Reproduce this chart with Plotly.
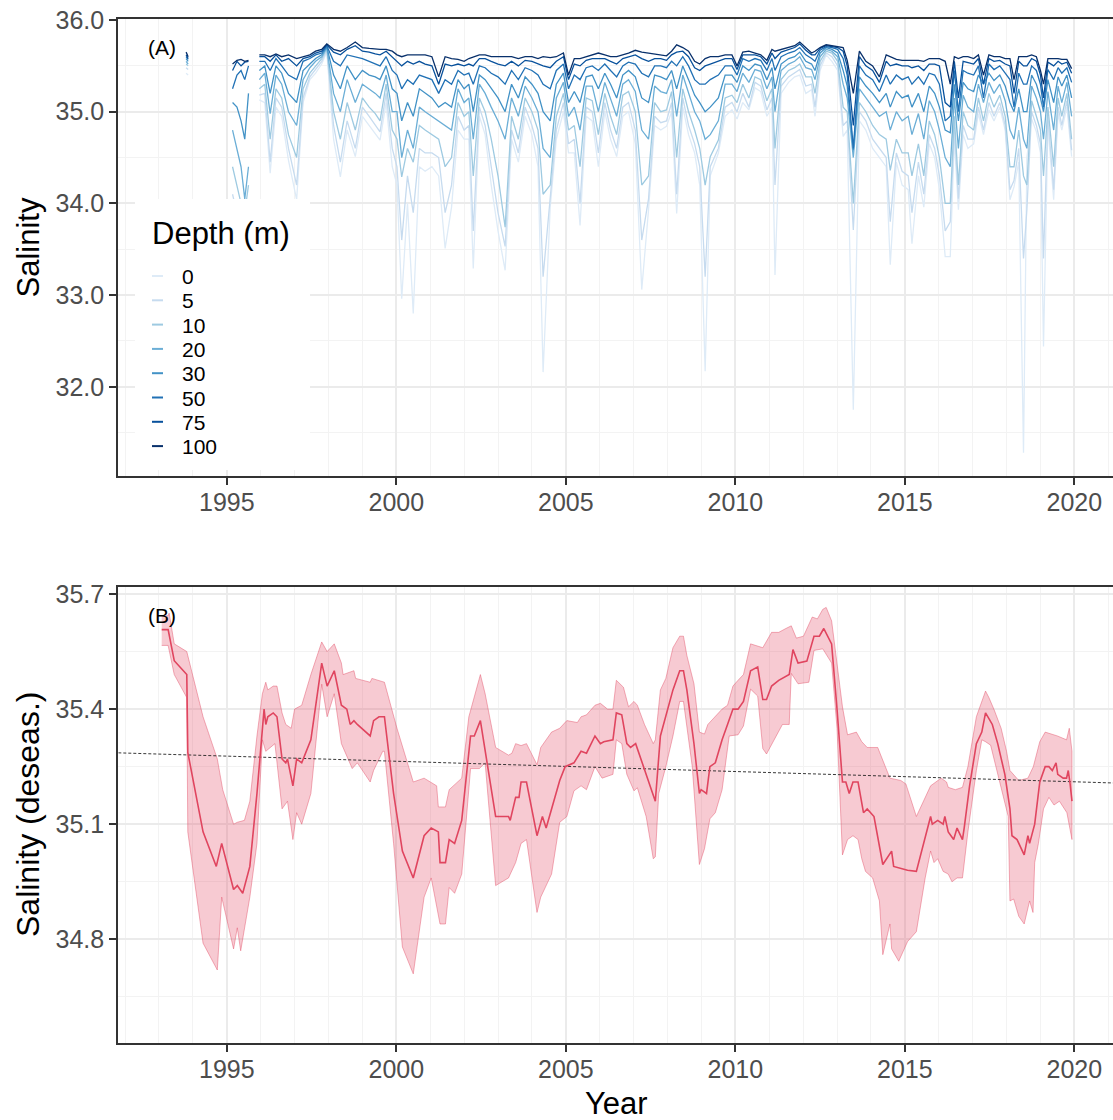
import plotly.graph_objects as go

W, H = 1113, 1120

# ---------------- Panel A: salinity by depth ----------------
dates = [
    1993.80, 1993.86, 1994.50, 1995.17, 1995.30, 1995.42, 1995.53, 1995.64, 1995.80, 1995.96,
    1996.12, 1996.28, 1996.45, 1996.62, 1996.82,
    1997.06, 1997.25, 1997.45, 1997.62, 1997.80, 1997.95,
    1998.15, 1998.35, 1998.55, 1998.79,
    1999.00, 1999.20, 1999.38, 1999.52, 1999.70, 1999.88,
    2000.02, 2000.16, 2000.33, 2000.50, 2000.68, 2000.85,
    2001.05, 2001.25, 2001.44, 2001.63, 2001.82,
    2002.00, 2002.14, 2002.27, 2002.45, 2002.62, 2002.80,
    2003.00, 2003.21, 2003.40, 2003.60, 2003.80,
    2004.00, 2004.18, 2004.33, 2004.54, 2004.72, 2004.93,
    2005.08, 2005.25, 2005.42, 2005.60, 2005.78, 2005.96,
    2006.15, 2006.32, 2006.50, 2006.68, 2006.85,
    2007.05, 2007.24, 2007.44, 2007.62, 2007.80, 2007.97,
    2008.12, 2008.27, 2008.45, 2008.62, 2008.80, 2008.95,
    2009.11, 2009.26, 2009.50, 2009.70, 2009.90,
    2010.05, 2010.22, 2010.40, 2010.58, 2010.75, 2010.93,
    2011.08, 2011.17, 2011.35, 2011.57, 2011.75, 2011.90,
    2012.08, 2012.25, 2012.35, 2012.50, 2012.68, 2012.85,
    2013.02, 2013.18, 2013.30, 2013.48, 2013.66, 2013.85,
    2014.05, 2014.25, 2014.45, 2014.57, 2014.75, 2014.92,
    2015.10, 2015.21, 2015.40, 2015.56, 2015.72, 2015.88,
    2016.02, 2016.19, 2016.34, 2016.46, 2016.58, 2016.72, 2016.86,
    2017.03, 2017.17, 2017.32, 2017.48, 2017.63, 2017.80, 2017.96,
    2018.10, 2018.22, 2018.36, 2018.50, 2018.60, 2018.74, 2018.88,
    2019.00, 2019.09, 2019.22, 2019.39, 2019.52, 2019.63, 2019.78, 2019.92,
]

sal_100 = [
    35.65, 35.60, None, 35.52, 35.56, 35.57, 35.55, 35.56, None, 35.62,
    35.62, 35.60, 35.63, 35.60, 35.62,
    35.58, 35.60, 35.62, 35.66, 35.68, 35.74,
    35.68, 35.66, 35.70, 35.76,
    35.70, 35.69, 35.68, 35.68, 35.68, 35.66,
    35.62, 35.60, 35.62, 35.62, 35.62, 35.62,
    35.60, 35.38, 35.60, 35.58, 35.57,
    35.55, 35.58, 35.60, 35.62, 35.62, 35.60,
    35.60, 35.60, 35.60, 35.58, 35.60,
    35.60, 35.58, 35.60, 35.59, 35.60, 35.64,
    35.40, 35.58, 35.58, 35.60, 35.62, 35.64,
    35.62, 35.60, 35.60, 35.62, 35.64,
    35.67, 35.65, 35.64, 35.63, 35.62, 35.61,
    35.66, 35.73, 35.70, 35.66, 35.55, 35.52,
    35.58, 35.60, 35.60, 35.62, 35.62,
    35.50, 35.65, 35.66, 35.64, 35.62, 35.56,
    35.68, 35.66, 35.68, 35.70, 35.72, 35.76,
    35.70, 35.64, 35.66, 35.70, 35.73, 35.72,
    35.71, 35.70, 35.56, 35.20, 35.66, 35.55,
    35.50, 35.38, 35.62, 35.60, 35.57, 35.56,
    35.56, 35.56, 35.56, 35.55, 35.58, 35.58,
    35.58, 35.55, 35.30, 35.60, 35.58, 35.60, 35.60,
    35.58, 35.62, 35.40, 35.62, 35.60, 35.60, 35.58,
    35.58, 35.35, 35.60, 35.60, 35.60, 35.62, 35.60,
    35.45, 35.30, 35.58, 35.58, 35.58, 35.57, 35.57, 35.47,
]

sal_75 = [
    35.62, 35.58, None, 35.45, 35.55, 35.50, 35.54, 35.55, None, 35.60,
    35.60, 35.55, 35.62, 35.55, 35.58,
    35.50, 35.58, 35.60, 35.64, 35.66, 35.73,
    35.65, 35.62, 35.68, 35.72,
    35.66, 35.65, 35.63, 35.62, 35.66, 35.60,
    35.55, 35.50, 35.55, 35.52, 35.55, 35.52,
    35.50, 35.30, 35.52, 35.50, 35.52,
    35.50, 35.52, 35.50, 35.58, 35.58, 35.55,
    35.52, 35.50, 35.55, 35.50, 35.56,
    35.55, 35.52, 35.50, 35.48, 35.55, 35.60,
    35.35, 35.52, 35.50, 35.56, 35.58, 35.58,
    35.58, 35.55, 35.52, 35.58, 35.60,
    35.62, 35.58, 35.55, 35.58, 35.58, 35.56,
    35.62, 35.65, 35.66, 35.60, 35.48, 35.45,
    35.50, 35.52, 35.55, 35.58, 35.58,
    35.46, 35.62, 35.62, 35.62, 35.60, 35.52,
    35.64, 35.58, 35.65, 35.68, 35.70, 35.74,
    35.67, 35.62, 35.62, 35.69, 35.72, 35.71,
    35.70, 35.66, 35.50, 34.85, 35.60, 35.50,
    35.45, 35.32, 35.55, 35.50, 35.52, 35.50,
    35.50, 35.48, 35.50, 35.45, 35.52, 35.52,
    35.50, 35.10, 35.05, 35.55, 35.15, 35.55, 35.54,
    35.52, 35.58, 35.30, 35.58, 35.55, 35.56, 35.52,
    35.50, 35.20, 35.55, 35.50, 35.50, 35.58, 35.55,
    35.40, 35.15, 35.54, 35.50, 35.55, 35.52, 35.54, 35.42,
]

sal_50 = [
    35.60, 35.57, None, 35.25, 35.40, 35.45, 35.35, 35.50, None, 35.55,
    35.55, 35.45, 35.58, 35.50, 35.40,
    35.35, 35.55, 35.58, 35.62, 35.64, 35.72,
    35.55, 35.50, 35.62, 35.60,
    35.58, 35.55, 35.52, 35.50, 35.60, 35.45,
    35.40, 35.25, 35.35, 35.30, 35.40, 35.38,
    35.35, 35.20, 35.35, 35.30, 35.45,
    35.40, 35.42, 35.30, 35.50, 35.48, 35.42,
    35.38, 35.30, 35.45, 35.35, 35.48,
    35.45, 35.40, 35.30, 35.25, 35.45, 35.52,
    35.25, 35.40, 35.35, 35.48, 35.50, 35.45,
    35.52, 35.45, 35.38, 35.50, 35.54,
    35.52, 35.42, 35.38, 35.50, 35.50, 35.48,
    35.55, 35.50, 35.60, 35.50, 35.35, 35.30,
    35.30, 35.35, 35.40, 35.50, 35.50,
    35.40, 35.58, 35.55, 35.58, 35.56, 35.45,
    35.58, 35.45, 35.60, 35.64, 35.66, 35.70,
    35.62, 35.58, 35.55, 35.67, 35.71, 35.70,
    35.68, 35.58, 35.40, 34.60, 35.50, 35.40,
    35.35, 35.22, 35.40, 35.30, 35.40, 35.35,
    35.38, 35.30, 35.38, 35.30, 35.42, 35.40,
    35.30, 34.90, 34.95, 35.45, 35.00, 35.45, 35.42,
    35.40, 35.50, 35.15, 35.52, 35.46, 35.50, 35.42,
    35.35, 35.05, 35.42, 35.30, 35.30, 35.50, 35.45,
    35.30, 35.05, 35.46, 35.35, 35.48, 35.42, 35.48, 35.32,
]

sal_30 = [
    35.58, 35.55, None, 35.10, 35.05, 34.90, 34.70, 35.20, None, 35.45,
    35.50, 35.20, 35.50, 35.42, 35.20,
    35.10, 35.45, 35.52, 35.58, 35.62, 35.71,
    35.40, 35.25, 35.50, 35.35,
    35.45, 35.40, 35.38, 35.35, 35.50, 35.25,
    35.20, 34.90, 35.10, 34.95, 35.25, 35.20,
    35.15, 35.05, 35.10, 35.05, 35.35,
    35.25, 35.30, 35.00, 35.40, 35.35, 35.25,
    35.15, 35.00, 35.30, 35.15, 35.38,
    35.30, 35.20, 35.00, 34.90, 35.30, 35.42,
    35.10, 35.22, 35.10, 35.38, 35.40, 35.25,
    35.42, 35.30, 35.15, 35.40, 35.45,
    35.38, 35.15, 35.10, 35.40, 35.38, 35.35,
    35.45, 35.25, 35.50, 35.35, 35.18, 35.10,
    35.00, 35.05, 35.15, 35.40, 35.40,
    35.32, 35.50, 35.45, 35.52, 35.50, 35.35,
    35.48, 35.25, 35.52, 35.58, 35.60, 35.65,
    35.55, 35.52, 35.45, 35.64, 35.70, 35.68,
    35.64, 35.45, 35.28, 34.58, 35.38, 35.28,
    35.20, 35.10, 35.20, 35.05, 35.22, 35.15,
    35.18, 35.05, 35.20, 35.00, 35.28, 35.20,
    35.05, 34.80, 34.77, 35.30, 34.90, 35.32, 35.25,
    35.22, 35.40, 35.30, 35.42, 35.34, 35.40, 35.28,
    35.10, 35.00, 35.25, 35.00, 35.00, 35.40, 35.30,
    35.15, 35.00, 35.35, 35.10, 35.38, 35.28, 35.40, 35.15,
]

sal_20 = [
    35.55, 35.52, None, 34.80, 34.60, 34.40, 34.05, 34.40, None, 35.35,
    35.42, 34.98, 35.40, 35.30, 35.00,
    34.85, 35.35, 35.48, 35.55, 35.60, 35.70,
    35.20, 35.00, 35.35, 35.10,
    35.30, 35.25, 35.20, 35.15, 35.40, 35.00,
    35.00, 34.50, 34.80, 34.60, 35.05, 35.00,
    34.95, 34.90, 34.85, 34.80, 35.25,
    35.10, 35.15, 34.70, 35.30, 35.20, 35.05,
    34.90, 34.70, 35.15, 34.95, 35.28,
    35.15, 35.00, 34.60, 34.50, 35.15, 35.32,
    34.95, 35.05, 34.80, 35.28, 35.28, 35.00,
    35.32, 35.15, 34.95, 35.30, 35.35,
    35.22, 34.80, 34.70, 35.28, 35.22, 35.20,
    35.35, 34.95, 35.40, 35.20, 35.00, 34.90,
    34.70, 34.75, 34.90, 35.30, 35.30,
    35.22, 35.42, 35.32, 35.46, 35.44, 35.25,
    35.38, 35.00, 35.45, 35.52, 35.55, 35.60,
    35.48, 35.46, 35.35, 35.60, 35.68, 35.66,
    35.60, 35.30, 35.15, 34.50, 35.25, 35.15,
    35.05, 34.95, 35.00, 34.80, 35.00, 34.90,
    34.95, 34.75, 34.98, 34.70, 35.12, 35.00,
    34.80, 34.50, 34.40, 35.15, 34.60, 35.18, 35.05,
    35.00, 35.30, 35.10, 35.32, 35.20, 35.30, 35.12,
    34.80, 34.70, 35.05, 34.70, 34.60, 35.28, 35.15,
    35.00, 34.70, 35.22, 34.80, 35.28, 35.10, 35.32, 34.95,
]

sal_10 = [
    35.52, 35.50, None, 34.40, 34.20, 34.00, 33.90, 34.20, None, 35.25,
    35.30, 34.70, 35.25, 35.15, 34.75,
    34.50, 35.25, 35.42, 35.50, 35.58, 35.69,
    35.00, 34.70, 35.10, 34.80,
    35.15, 35.05, 34.98, 34.90, 35.30, 34.80,
    34.70, 34.29, 34.60, 34.45, 34.85, 34.80,
    34.75, 34.70, 34.40, 34.50, 35.10,
    34.95, 35.00, 34.30, 35.15, 35.00, 34.70,
    34.30, 33.74, 34.95, 34.70, 35.15,
    35.00, 34.80, 34.10, 34.20, 34.95, 35.20,
    34.80, 34.85, 34.40, 35.15, 35.12, 34.75,
    35.20, 34.95, 34.75, 35.18, 35.22,
    35.00, 34.20, 34.30, 35.10, 35.00, 35.02,
    35.22, 34.50, 35.25, 35.00, 34.80, 34.60,
    34.20, 34.51, 34.69, 35.15, 35.18,
    35.10, 35.30, 35.15, 35.38, 35.35, 35.12,
    35.25, 34.60, 35.35, 35.45, 35.48, 35.52,
    35.38, 35.38, 35.20, 35.55, 35.66, 35.64,
    35.55, 35.05, 35.00, 34.00, 35.10, 35.00,
    34.85, 34.75, 34.70, 34.36, 34.70, 34.55,
    34.55, 34.30, 34.65, 34.30, 34.90, 34.75,
    34.50, 34.00, 34.00, 34.95, 34.20, 35.00, 34.85,
    34.80, 35.15, 34.90, 35.20, 35.05, 35.18, 34.95,
    34.40, 34.40, 34.80, 34.30, 34.20, 35.12, 34.95,
    34.80, 34.30, 35.05, 34.40, 35.15, 34.95, 35.20, 34.70,
]

sal_5 = [
    35.48, 35.46, None, 34.10, 33.90, 33.70, 33.60, 33.95, None, 35.18,
    35.20, 34.45, 35.15, 35.05, 34.60,
    34.20, 35.15, 35.38, 35.46, 35.55, 35.67,
    34.85, 34.45, 34.90, 34.60,
    35.05, 34.95, 34.85, 34.78, 35.20, 34.60,
    34.40, 33.60, 34.30, 33.90, 34.60, 34.55,
    34.55, 34.50, 33.90, 34.20, 34.95,
    34.80, 34.85, 33.70, 35.05, 34.85, 34.40,
    33.90, 33.53, 34.80, 34.55, 35.05,
    34.85, 34.60, 33.20, 34.05, 34.80, 35.10,
    34.65, 34.70, 34.00, 35.05, 35.00, 34.55,
    35.10, 34.80, 34.60, 35.05, 35.10,
    34.80, 33.60, 34.05, 34.95, 34.88, 34.90,
    35.10, 34.10, 35.15, 34.85, 34.65, 34.40,
    33.20, 34.40, 34.60, 35.05, 35.10,
    35.00, 35.20, 35.05, 35.32, 35.28, 35.02,
    35.15, 34.20, 35.28, 35.38, 35.42, 35.46,
    35.28, 35.30, 35.05, 35.50, 35.64, 35.60,
    35.50, 34.85, 34.90, 33.71, 35.00, 34.90,
    34.70, 34.60, 34.50, 33.80, 34.55, 34.35,
    34.30, 33.90, 34.45, 34.10, 34.75, 34.60,
    34.30, 33.70, 33.80, 34.80, 34.05, 34.85, 34.70,
    34.70, 35.05, 34.80, 35.10, 34.95, 35.10, 34.85,
    34.15, 34.25, 34.60, 33.40, 33.93, 35.00, 34.85,
    34.65, 33.40, 34.95, 34.15, 35.05, 34.85, 35.12, 34.58,
]

sal_0 = [
    35.42, 35.40, None, 33.90, 33.60, 33.50, 33.40, 33.70, None, 35.13,
    35.10, 34.33, 35.05, 34.95, 34.47,
    34.04, 35.10, 35.35, 35.42, 35.52, 35.65,
    34.70, 34.29, 34.80, 34.51,
    34.95, 34.85, 34.75, 34.69, 35.10, 34.40,
    34.20, 32.96, 34.00, 32.80, 34.40, 34.35,
    34.40, 34.30, 33.51, 33.96, 34.80,
    34.70, 34.70, 33.29, 34.95, 34.75, 34.20,
    33.70, 33.27, 34.70, 34.45, 34.95,
    34.75, 34.40, 32.16, 33.96, 34.70, 35.00,
    34.55, 34.55, 33.76, 34.95, 34.90, 34.40,
    35.00, 34.70, 34.51, 34.95, 35.00,
    34.65, 33.06, 33.93, 34.85, 34.80, 34.84,
    35.00, 33.89, 35.05, 34.75, 34.55, 34.20,
    32.17, 34.30, 34.55, 34.95, 35.02,
    34.92, 35.10, 35.02, 35.26, 35.22, 34.95,
    35.05, 33.22, 35.20, 35.32, 35.38, 35.40,
    35.20, 35.24, 34.95, 35.45, 35.62, 35.55,
    35.45, 34.73, 34.80, 31.75, 34.90, 34.80,
    34.60, 34.50, 34.40, 33.33, 34.45, 34.20,
    34.15, 33.56, 34.30, 33.96, 34.65, 34.50,
    34.15, 33.42, 33.42, 34.70, 33.93, 34.75, 34.60,
    34.65, 34.98, 34.75, 35.02, 34.90, 35.05, 34.80,
    34.04, 34.18, 34.45, 31.28, 34.50, 34.92, 34.78,
    34.55, 32.44, 34.85, 34.04, 34.98, 34.80, 35.05, 34.51,
]

depth_labels = ["0", "5", "10", "20", "30", "50", "75", "100"]
depth_series = [sal_0, sal_5, sal_10, sal_20, sal_30, sal_50, sal_75, sal_100]
depth_colors = ["#DEEBF7", "#C6DBEF", "#9ECAE1", "#6BAED6",
                "#4292C6", "#2171B5", "#08519C", "#08306B"]

# ---------------- Panel B: deseasonalised salinity ----------------
b_years = [
    1993.08, 1993.27, 1993.45, 1993.82, 1993.85, 1994.30, 1994.69, 1994.85, 1995.20, 1995.31,
    1995.47, 1995.68, 1995.89, 1996.10, 1996.15, 1996.21, 1996.37, 1996.48, 1996.63, 1996.74,
    1996.79, 1996.95, 1997.06, 1997.21, 1997.48, 1997.80, 1997.96, 1998.17, 1998.38, 1998.54,
    1998.64, 1998.75, 1998.85, 1999.23, 1999.33, 1999.49, 1999.65, 1999.92, 2000.18, 2000.50,
    2000.82, 2001.03, 2001.24, 2001.29, 2001.45, 2001.56, 2001.72, 2001.93, 2002.19, 2002.30,
    2002.48, 2002.62, 2002.93, 2003.31, 2003.36, 2003.52, 2003.62, 2003.68, 2003.84, 2004.15,
    2004.21, 2004.31, 2004.42, 2004.58, 2004.82, 2004.98, 2005.24, 2005.45, 2005.61, 2005.86,
    2006.02, 2006.12, 2006.39, 2006.49, 2006.65, 2006.80, 2006.91, 2007.06, 2007.32, 2007.58,
    2007.64, 2007.79, 2007.95, 2008.16, 2008.36, 2008.47, 2008.57, 2008.78, 2008.94, 2008.99,
    2009.15, 2009.25, 2009.41, 2009.61, 2009.77, 2009.93, 2010.08, 2010.24, 2010.45, 2010.66,
    2010.81, 2010.92, 2011.07, 2011.28, 2011.59, 2011.70, 2011.85, 2012.11, 2012.32, 2012.48,
    2012.61, 2012.84, 2013.00, 2013.16, 2013.26, 2013.36, 2013.47, 2013.62, 2013.78, 2013.89,
    2014.09, 2014.35, 2014.61, 2014.67, 2015.08, 2015.34, 2015.76, 2015.81, 2015.97, 2016.13,
    2016.18, 2016.28, 2016.44, 2016.54, 2016.70, 2016.75, 2016.91, 2017.11, 2017.27, 2017.38,
    2017.48, 2017.58, 2017.74, 2017.95, 2018.10, 2018.16, 2018.31, 2018.42, 2018.52, 2018.63,
    2018.68, 2018.83, 2018.98, 2019.14, 2019.25, 2019.35, 2019.46, 2019.51, 2019.67, 2019.77,
    2019.82, 2019.875, 2019.93,
]
b_mean = [
    35.607, 35.607, 35.526, 35.49, 35.287, 35.08, 34.99, 35.05, 34.93, 34.94,
    34.92, 34.99, 35.18, 35.40, 35.36, 35.38, 35.39, 35.38, 35.27, 35.26,
    35.27, 35.20, 35.27, 35.26, 35.32, 35.52, 35.46, 35.50, 35.41, 35.40,
    35.36, 35.37, 35.36, 35.33, 35.37, 35.38, 35.38, 35.18, 35.03, 34.96,
    35.07, 35.09, 35.08, 35.00, 35.00, 35.06, 35.05, 35.11, 35.33, 35.33,
    35.37, 35.29, 35.12, 35.12, 35.11, 35.17, 35.17, 35.21, 35.21, 35.07,
    35.09, 35.12, 35.09, 35.14, 35.214, 35.25, 35.26, 35.29, 35.285, 35.33,
    35.31, 35.315, 35.32, 35.39, 35.385, 35.31, 35.30, 35.31, 35.24, 35.17,
    35.16, 35.33, 35.38, 35.45, 35.50, 35.50, 35.45, 35.31, 35.18, 35.19,
    35.18, 35.25, 35.26, 35.32, 35.36, 35.40, 35.40, 35.42, 35.50, 35.51,
    35.425, 35.425, 35.46, 35.475, 35.49, 35.555, 35.52, 35.525, 35.59, 35.59,
    35.61, 35.57, 35.40, 35.21, 35.21, 35.18, 35.21, 35.21, 35.13, 35.14,
    35.12, 34.995, 35.03, 34.99, 34.98, 34.977, 35.12, 35.10, 35.11, 35.10,
    35.12, 35.08, 35.06, 35.09, 35.06, 35.09, 35.20, 35.31, 35.34, 35.39,
    35.375, 35.36, 35.31, 35.23, 35.14, 35.07, 35.06, 35.04, 35.02, 35.07,
    35.05, 35.10, 35.21, 35.25, 35.25, 35.24, 35.26, 35.23, 35.22, 35.22,
    35.24, 35.205, 35.16,
]

b_up_years = [
    1993.08, 1993.27, 1993.30, 1993.45, 1993.82, 1994.30, 1994.72, 1994.88, 1995.20, 1995.31,
    1995.52, 1995.68, 1995.89, 1996.05, 1996.15, 1996.21, 1996.37, 1996.48, 1996.63, 1996.74,
    1996.90, 1997.00, 1997.21, 1997.48, 1997.80, 1997.96, 1998.17, 1998.38, 1998.43, 1998.75,
    1998.80, 1999.23, 1999.28, 1999.65, 2000.02, 2000.50, 2000.82, 2001.19, 2001.24, 2001.45,
    2001.56, 2001.93, 2002.14, 2002.48, 2002.62, 2002.93, 2003.31, 2003.41, 2003.52, 2003.68,
    2003.84, 2004.15, 2004.26, 2004.58, 2004.82, 2005.03, 2005.34, 2005.45, 2005.61, 2005.86,
    2006.02, 2006.23, 2006.39, 2006.49, 2006.70, 2006.85, 2007.01, 2007.11, 2007.32, 2007.58,
    2007.64, 2007.79, 2007.95, 2008.16, 2008.36, 2008.47, 2008.57, 2008.78, 2008.94, 2009.09,
    2009.19, 2009.41, 2009.61, 2009.77, 2009.93, 2010.08, 2010.24, 2010.45, 2010.81, 2011.07,
    2011.28, 2011.49, 2011.65, 2011.80, 2012.01, 2012.27, 2012.42, 2012.58, 2012.68, 2012.84,
    2013.05, 2013.16, 2013.31, 2013.57, 2013.73, 2013.89, 2014.20, 2014.56, 2014.88, 2015.03,
    2015.34, 2015.76, 2016.07, 2016.23, 2016.28, 2016.49, 2016.70, 2016.86, 2017.11, 2017.27,
    2017.38, 2017.48, 2017.64, 2017.84, 2018.00, 2018.10, 2018.36, 2018.63, 2018.79, 2018.98,
    2019.14, 2019.50, 2019.77, 2019.85, 2019.93,
]
b_up = [
    35.643, 35.643, 35.65, 35.57, 35.55, 35.38, 35.27, 35.19, 35.10, 35.105,
    35.11, 35.16, 35.33, 35.44, 35.47, 35.45, 35.46, 35.46, 35.39, 35.36,
    35.35, 35.40, 35.41, 35.49, 35.575, 35.55, 35.57, 35.52, 35.49, 35.50,
    35.48, 35.47, 35.48, 35.47, 35.35, 35.21, 35.22, 35.20, 35.145, 35.145,
    35.19, 35.22, 35.38, 35.49, 35.44, 35.30, 35.28, 35.285, 35.31, 35.305,
    35.31, 35.255, 35.30, 35.34, 35.35, 35.37, 35.365, 35.38, 35.385, 35.41,
    35.415, 35.40, 35.40, 35.475, 35.457, 35.406, 35.42, 35.41, 35.36, 35.31,
    35.32, 35.45, 35.48, 35.56, 35.59, 35.59, 35.54, 35.466, 35.34, 35.335,
    35.36, 35.38, 35.40, 35.41, 35.46, 35.475, 35.49, 35.57, 35.56, 35.60,
    35.60, 35.61, 35.617, 35.585, 35.59, 35.64, 35.635, 35.66, 35.665, 35.63,
    35.48, 35.406, 35.333, 35.34, 35.315, 35.30, 35.30, 35.22, 35.214, 35.205,
    35.12, 35.20, 35.22, 35.21, 35.196, 35.19, 35.196, 35.25, 35.38, 35.42,
    35.447, 35.43, 35.397, 35.35, 35.29, 35.24, 35.214, 35.22, 35.25, 35.315,
    35.34, 35.33, 35.32, 35.35, 35.29,
]

b_lo_years = [
    1993.08, 1993.27, 1993.45, 1993.82, 1993.85, 1994.30, 1994.72, 1994.85, 1995.20, 1995.31,
    1995.41, 1995.68, 1995.89, 1996.05, 1996.15, 1996.42, 1996.63, 1996.79, 1996.95, 1997.06,
    1997.21, 1997.48, 1997.80, 1997.96, 1998.17, 1998.38, 1998.70, 1998.85, 1999.23, 1999.33,
    1999.60, 1999.65, 1999.92, 2000.18, 2000.50, 2000.82, 2001.03, 2001.29, 2001.45, 2001.56,
    2001.72, 2001.93, 2002.19, 2002.45, 2002.62, 2002.93, 2003.31, 2003.52, 2003.68, 2003.84,
    2004.15, 2004.26, 2004.42, 2004.58, 2004.82, 2005.03, 2005.24, 2005.45, 2005.61, 2005.86,
    2006.07, 2006.39, 2006.49, 2006.65, 2006.80, 2007.01, 2007.11, 2007.37, 2007.58, 2007.64,
    2007.74, 2007.95, 2008.16, 2008.36, 2008.47, 2008.73, 2008.94, 2009.09, 2009.25, 2009.41,
    2009.61, 2009.82, 2010.08, 2010.24, 2010.45, 2010.66, 2010.81, 2010.92, 2011.39, 2011.59,
    2011.65, 2011.85, 2012.17, 2012.32, 2012.58, 2012.84, 2013.00, 2013.16, 2013.31, 2013.47,
    2013.62, 2013.73, 2013.84, 2014.05, 2014.25, 2014.35, 2014.56, 2014.61, 2014.82, 2015.08,
    2015.34, 2015.60, 2015.76, 2015.86, 2015.97, 2016.13, 2016.28, 2016.39, 2016.54, 2016.70,
    2016.86, 2017.11, 2017.27, 2017.38, 2017.53, 2017.74, 2018.05, 2018.10, 2018.21, 2018.36,
    2018.52, 2018.68, 2018.78, 2018.83, 2018.94, 2019.09, 2019.25, 2019.40, 2019.56, 2019.78,
    2019.93,
]
b_lo = [
    35.566, 35.566, 35.49, 35.43, 35.08, 34.79, 34.72, 34.91, 34.775, 34.83,
    34.77, 34.91, 35.05, 35.32, 35.29, 35.31, 35.14, 35.16, 35.06, 35.13,
    35.10, 35.18, 35.465, 35.38, 35.44, 35.31, 35.245, 35.26, 35.21, 35.24,
    35.29, 35.29, 35.05, 34.78, 34.71, 34.91, 34.96, 34.84, 34.84, 34.935,
    34.92, 34.97, 35.245, 35.245, 35.26, 34.94, 34.96, 35.00, 35.05, 35.06,
    34.87, 34.91, 34.94, 34.97, 35.105, 35.12, 35.187, 35.20, 35.19, 35.25,
    35.22, 35.23, 35.32, 35.31, 35.23, 35.187, 35.195, 35.12, 35.01, 35.015,
    35.18, 35.25, 35.33, 35.42, 35.42, 35.25, 34.995, 35.036, 35.114, 35.13,
    35.19, 35.33, 35.333, 35.356, 35.452, 35.434, 35.297, 35.283, 35.36, 35.36,
    35.493, 35.466, 35.47, 35.553, 35.557, 35.52, 35.35, 35.02, 35.06, 35.07,
    35.06, 35.01, 34.977, 34.96, 34.90, 34.76, 34.84, 34.775, 34.743, 34.794,
    34.82, 34.96, 35.03, 35.00, 35.01, 34.977, 34.97, 34.95, 34.96, 34.96,
    35.08, 35.24, 35.32, 35.315, 35.306, 35.23, 35.12, 34.90, 34.905, 34.86,
    34.84, 34.90, 34.87, 35.00, 35.05, 35.14, 35.17, 35.15, 35.16, 35.13,
    35.06,
]

# linear trend (read at panel edges)
trend_years = [1991.80, 2021.14]
trend_vals = [35.286, 35.2075]

# ---------------- Styling constants ----------------
FONT = "Liberation Sans, Arial, sans-serif"
X_RANGE = [1991.80, 2021.14]
A_YRANGE = [31.03, 36.008]
B_YRANGE = [34.529, 35.719]
GRID = "#EBEBEB"
MINOR = "#F3F3F3"
AXC = "#333333"
TICKC = "#4D4D4D"


def px(x):
    return x / W


def py(y):
    return 1 - y / H


fig = go.Figure()

for lab, ser, col in zip(depth_labels, depth_series, depth_colors):
    fig.add_trace(go.Scatter(
        x=dates, y=ser, mode="lines", name=lab,
        line=dict(color=col, width=1.3), connectgaps=False,
        showlegend=False, xaxis="x", yaxis="y", hoverinfo="skip"))

# ribbon
fig.add_trace(go.Scatter(
    x=b_up_years + b_lo_years[::-1], y=b_up + b_lo[::-1],
    fill="toself", fillcolor="rgba(228,80,106,0.30)",
    line=dict(color="rgba(226,74,99,0.55)", width=0.8),
    mode="lines", showlegend=False, xaxis="x2", yaxis="y2", hoverinfo="skip"))
# trend
fig.add_trace(go.Scatter(
    x=trend_years, y=trend_vals, mode="lines",
    line=dict(color="#222222", width=0.9, dash="3px,2px"),
    showlegend=False, xaxis="x2", yaxis="y2", hoverinfo="skip"))
# smoothed line
fig.add_trace(go.Scatter(
    x=b_years, y=b_mean, mode="lines",
    line=dict(color="#E0455F", width=1.6),
    showlegend=False, xaxis="x2", yaxis="y2", hoverinfo="skip"))

xcommon = dict(
    range=X_RANGE, tick0=1995, dtick=5, ticks="outside", ticklen=7, tickwidth=2.4,
    tickcolor=AXC, showline=True, linecolor=AXC, linewidth=2.2, mirror=True,
    showgrid=True, gridcolor=GRID, gridwidth=2.4, zeroline=False, automargin=False,
    ticklabelstandoff=-4,
    tickfont=dict(family=FONT, size=25, color=TICKC),
    minor=dict(dtick=1, tick0=1995, showgrid=True, gridcolor=MINOR, gridwidth=1.2),
)
ycommon = dict(
    ticks="outside", ticklen=7, tickwidth=2.4, tickcolor=AXC, showline=True,
    linecolor=AXC, linewidth=2.2, showgrid=True, gridcolor=GRID, gridwidth=2.4,
    zeroline=False, automargin=False,
    tickfont=dict(family=FONT, size=25, color=TICKC), tickformat=".1f",
)

fig.update_layout(
    width=W, height=H, margin=dict(l=0, r=0, t=0, b=0, pad=0, autoexpand=False),
    paper_bgcolor="white", plot_bgcolor="white", showlegend=False,
    font=dict(family=FONT),
    xaxis=dict(domain=[px(118.3), 1.0], anchor="y", **xcommon),
    yaxis=dict(domain=[py(475.7), py(19.3)], anchor="x", range=A_YRANGE,
               tick0=32, dtick=1,
               minor=dict(dtick=0.5, tick0=32, showgrid=True, gridcolor=MINOR, gridwidth=1.2),
               **ycommon),
    xaxis2=dict(domain=[px(118.3), 1.0], anchor="y2", **xcommon),
    yaxis2=dict(domain=[py(1043.3), py(586.7)], anchor="x2", range=B_YRANGE,
                tick0=34.8, dtick=0.3,
                minor=dict(dtick=0.15, tick0=34.8, showgrid=True, gridcolor=MINOR, gridwidth=1.2),
                **ycommon),
)

annotations = []
shapes = []
# axis titles
annotations.append(dict(text="Salinity", x=px(28), y=py(247.5), xref="paper", yref="paper",
                        textangle=-90, showarrow=False, xanchor="center", yanchor="middle",
                        font=dict(family=FONT, size=31, color="black")))
annotations.append(dict(text="Salinity (deseas.)", x=px(28), y=py(815), xref="paper", yref="paper",
                        textangle=-90, showarrow=False, xanchor="center", yanchor="middle",
                        font=dict(family=FONT, size=32, color="black")))
annotations.append(dict(text="Year", x=px(616), y=py(1103), xref="paper", yref="paper",
                        showarrow=False, xanchor="center", yanchor="middle", height=30,
                        font=dict(family=FONT, size=31, color="black")))
# panel tags
annotations.append(dict(text="(A)", x=px(162), y=py(48), xref="paper", yref="paper",
                        showarrow=False, xanchor="center", yanchor="middle",
                        font=dict(family=FONT, size=21, color="black")))
annotations.append(dict(text="(B)", x=px(162), y=py(615), xref="paper", yref="paper",
                        showarrow=False, xanchor="center", yanchor="middle",
                        font=dict(family=FONT, size=21, color="black")))

# manual legend (white box inside panel A)
shapes.append(dict(type="rect", xref="paper", yref="paper",
                   x0=px(135), x1=px(310), y0=py(470), y1=py(199),
                   fillcolor="white", line=dict(width=0), layer="above"))
annotations.append(dict(text="Depth (m)", x=px(150), y=py(233), xref="paper", yref="paper",
                        showarrow=False, xanchor="left", yanchor="middle",
                        font=dict(family=FONT, size=31, color="black")))
LEG_Y0, LEG_STEP = 276, 24.3
for i, (lab, col) in enumerate(zip(depth_labels, depth_colors)):
    yy = LEG_Y0 + i * LEG_STEP
    shapes.append(dict(type="line", xref="paper", yref="paper",
                       x0=px(152), x1=px(163), y0=py(yy), y1=py(yy),
                       line=dict(color=col, width=2), layer="above"))
    annotations.append(dict(text=lab, x=px(180), y=py(yy), xref="paper", yref="paper",
                            showarrow=False, xanchor="left", yanchor="middle", height=22,
                            font=dict(family=FONT, size=21, color="black")))

fig.update_layout(annotations=annotations, shapes=shapes)

fig.write_html(
    "out.html",
    config={"displayModeBar": False},
    post_script="document.body.style.margin='0';document.body.style.overflow='hidden';",
)
